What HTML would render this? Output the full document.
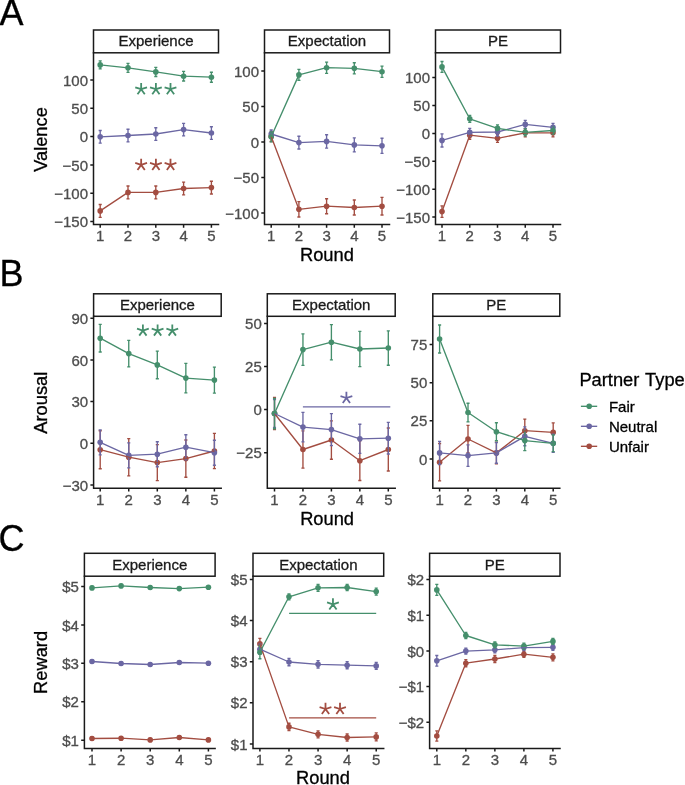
<!DOCTYPE html>
<html><head><meta charset="utf-8"><title>Partner Type plots</title><style>html,body{margin:0;padding:0;background:#fff;}svg{display:block;will-change:transform;}body{font-family:"Liberation Sans",sans-serif;width:685px;height:785px;overflow:hidden;}</style></head><body>
<svg width="685" height="785" viewBox="0 0 685 785" font-family="'Liberation Sans', sans-serif">
<rect width="685" height="785" fill="#fff"/>
<rect x="93.5" y="30" width="125" height="22.8" fill="#fff" stroke="#1A1A1A" stroke-width="1.5"/>
<text x="156" y="46.3" font-size="15" fill="#1A1A1A" text-anchor="middle" stroke="#1A1A1A" stroke-width="0.3">Experience</text>
<path d="M100.2 204.5V217.3M98.65 204.5H101.75M98.65 217.3H101.75M128 186V198.8M126.45 186H129.55M126.45 198.8H129.55M155.8 186V198.8M154.25 186H157.35M154.25 198.8H157.35M183.6 182.1V194.9M182.05 182.1H185.15M182.05 194.9H185.15M211.4 181.2V194M209.85 181.2H212.95M209.85 194H212.95" stroke="#A34D41" stroke-width="1.35" fill="none"/>
<circle cx="100.2" cy="210.9" r="2.8" fill="#A34D41"/>
<circle cx="128" cy="192.4" r="2.8" fill="#A34D41"/>
<circle cx="155.8" cy="192.4" r="2.8" fill="#A34D41"/>
<circle cx="183.6" cy="188.5" r="2.8" fill="#A34D41"/>
<circle cx="211.4" cy="187.6" r="2.8" fill="#A34D41"/>
<path d="M100.2 130.5V143.1M98.65 130.5H101.75M98.65 143.1H101.75M128 129.2V141.8M126.45 129.2H129.55M126.45 141.8H129.55M155.8 127.7V140.3M154.25 127.7H157.35M154.25 140.3H157.35M183.6 123.3V135.9M182.05 123.3H185.15M182.05 135.9H185.15M211.4 126.7V139.3M209.85 126.7H212.95M209.85 139.3H212.95" stroke="#6B67A3" stroke-width="1.35" fill="none"/>
<circle cx="100.2" cy="136.8" r="2.8" fill="#6B67A3"/>
<circle cx="128" cy="135.5" r="2.8" fill="#6B67A3"/>
<circle cx="155.8" cy="134" r="2.8" fill="#6B67A3"/>
<circle cx="183.6" cy="129.6" r="2.8" fill="#6B67A3"/>
<circle cx="211.4" cy="133" r="2.8" fill="#6B67A3"/>
<path d="M100.2 60.9V68.9M98.65 60.9H101.75M98.65 68.9H101.75M128 63.3V72.3M126.45 63.3H129.55M126.45 72.3H129.55M155.8 67.3V76.5M154.25 67.3H157.35M154.25 76.5H157.35M183.6 71.4V81M182.05 71.4H185.15M182.05 81H185.15M211.4 72.2V82.2M209.85 72.2H212.95M209.85 82.2H212.95" stroke="#458F6C" stroke-width="1.35" fill="none"/>
<circle cx="100.2" cy="64.9" r="2.8" fill="#458F6C"/>
<circle cx="128" cy="67.8" r="2.8" fill="#458F6C"/>
<circle cx="155.8" cy="71.9" r="2.8" fill="#458F6C"/>
<circle cx="183.6" cy="76.2" r="2.8" fill="#458F6C"/>
<circle cx="211.4" cy="77.2" r="2.8" fill="#458F6C"/>
<polyline points="100.2,210.9 128,192.4 155.8,192.4 183.6,188.5 211.4,187.6" fill="none" stroke="#A34D41" stroke-width="1.35" stroke-linejoin="round"/>
<polyline points="100.2,136.8 128,135.5 155.8,134 183.6,129.6 211.4,133" fill="none" stroke="#6B67A3" stroke-width="1.35" stroke-linejoin="round"/>
<polyline points="100.2,64.9 128,67.8 155.8,71.9 183.6,76.2 211.4,77.2" fill="none" stroke="#458F6C" stroke-width="1.35" stroke-linejoin="round"/>
<path d="M141.15 89.2L141.15 83M141.15 89.2L147.05 87.28M141.15 89.2L144.79 94.22M141.15 89.2L137.51 94.22M141.15 89.2L135.25 87.28" stroke="#458F6C" stroke-width="1.8" stroke-linecap="butt" fill="none"/>
<path d="M155.9 89.2L155.9 83M155.9 89.2L161.8 87.28M155.9 89.2L159.54 94.22M155.9 89.2L152.26 94.22M155.9 89.2L150 87.28" stroke="#458F6C" stroke-width="1.8" stroke-linecap="butt" fill="none"/>
<path d="M170.5 89.2L170.5 83M170.5 89.2L176.4 87.28M170.5 89.2L174.14 94.22M170.5 89.2L166.86 94.22M170.5 89.2L164.6 87.28" stroke="#458F6C" stroke-width="1.8" stroke-linecap="butt" fill="none"/>
<path d="M141.15 164.9L141.15 158.7M141.15 164.9L147.05 162.98M141.15 164.9L144.79 169.92M141.15 164.9L137.51 169.92M141.15 164.9L135.25 162.98" stroke="#A34D41" stroke-width="1.8" stroke-linecap="butt" fill="none"/>
<path d="M155.9 164.9L155.9 158.7M155.9 164.9L161.8 162.98M155.9 164.9L159.54 169.92M155.9 164.9L152.26 169.92M155.9 164.9L150 162.98" stroke="#A34D41" stroke-width="1.8" stroke-linecap="butt" fill="none"/>
<path d="M170.5 164.9L170.5 158.7M170.5 164.9L176.4 162.98M170.5 164.9L174.14 169.92M170.5 164.9L166.86 169.92M170.5 164.9L164.6 162.98" stroke="#A34D41" stroke-width="1.8" stroke-linecap="butt" fill="none"/>
<path d="M93.5 52.8V224.6H218.5" fill="none" stroke="#1A1A1A" stroke-width="1.5" stroke-linecap="square"/>
<path d="M90.3 80H93.5M90.3 108.3H93.5M90.3 136.6H93.5M90.3 164.9H93.5M90.3 193.3H93.5M90.3 221.6H93.5M100.2 224.6V227.8M128 224.6V227.8M155.8 224.6V227.8M183.6 224.6V227.8M211.4 224.6V227.8" stroke="#1A1A1A" stroke-width="1.5"/>
<text x="88" y="85.6" font-size="15" fill="#4D4D4D" text-anchor="end" stroke="#4D4D4D" stroke-width="0.3">100</text>
<text x="88" y="113.9" font-size="15" fill="#4D4D4D" text-anchor="end" stroke="#4D4D4D" stroke-width="0.3">50</text>
<text x="88" y="142.2" font-size="15" fill="#4D4D4D" text-anchor="end" stroke="#4D4D4D" stroke-width="0.3">0</text>
<text x="88" y="170.5" font-size="15" fill="#4D4D4D" text-anchor="end" stroke="#4D4D4D" stroke-width="0.3">−50</text>
<text x="88" y="198.9" font-size="15" fill="#4D4D4D" text-anchor="end" stroke="#4D4D4D" stroke-width="0.3">−100</text>
<text x="88" y="227.2" font-size="15" fill="#4D4D4D" text-anchor="end" stroke="#4D4D4D" stroke-width="0.3">−150</text>
<text x="100.2" y="241.2" font-size="15" fill="#4D4D4D" text-anchor="middle" stroke="#4D4D4D" stroke-width="0.3">1</text>
<text x="128" y="241.2" font-size="15" fill="#4D4D4D" text-anchor="middle" stroke="#4D4D4D" stroke-width="0.3">2</text>
<text x="155.8" y="241.2" font-size="15" fill="#4D4D4D" text-anchor="middle" stroke="#4D4D4D" stroke-width="0.3">3</text>
<text x="183.6" y="241.2" font-size="15" fill="#4D4D4D" text-anchor="middle" stroke="#4D4D4D" stroke-width="0.3">4</text>
<text x="211.4" y="241.2" font-size="15" fill="#4D4D4D" text-anchor="middle" stroke="#4D4D4D" stroke-width="0.3">5</text>
<rect x="264.5" y="30" width="125" height="22.8" fill="#fff" stroke="#1A1A1A" stroke-width="1.5"/>
<text x="327" y="46.3" font-size="15" fill="#1A1A1A" text-anchor="middle" stroke="#1A1A1A" stroke-width="0.3">Expectation</text>
<path d="M271.2 131.5V141.5M269.65 131.5H272.75M269.65 141.5H272.75M298.9 201.6V217M297.35 201.6H300.45M297.35 217H300.45M326.6 198.7V213.7M325.05 198.7H328.15M325.05 213.7H328.15M354.3 200V215M352.75 200H355.85M352.75 215H355.85M382 197.4V215M380.45 197.4H383.55M380.45 215H383.55" stroke="#A34D41" stroke-width="1.35" fill="none"/>
<circle cx="271.2" cy="136.5" r="2.8" fill="#A34D41"/>
<circle cx="298.9" cy="209.3" r="2.8" fill="#A34D41"/>
<circle cx="326.6" cy="206.2" r="2.8" fill="#A34D41"/>
<circle cx="354.3" cy="207.5" r="2.8" fill="#A34D41"/>
<circle cx="382" cy="206.2" r="2.8" fill="#A34D41"/>
<path d="M271.2 130V138M269.65 130H272.75M269.65 138H272.75M298.9 136.2V149M297.35 136.2H300.45M297.35 149H300.45M326.6 134.7V148.1M325.05 134.7H328.15M325.05 148.1H328.15M354.3 137.9V151.9M352.75 137.9H355.85M352.75 151.9H355.85M382 138.2V153.4M380.45 138.2H383.55M380.45 153.4H383.55" stroke="#6B67A3" stroke-width="1.35" fill="none"/>
<circle cx="271.2" cy="134" r="2.8" fill="#6B67A3"/>
<circle cx="298.9" cy="142.6" r="2.8" fill="#6B67A3"/>
<circle cx="326.6" cy="141.4" r="2.8" fill="#6B67A3"/>
<circle cx="354.3" cy="144.9" r="2.8" fill="#6B67A3"/>
<circle cx="382" cy="145.8" r="2.8" fill="#6B67A3"/>
<path d="M271.2 131.8V141.8M269.65 131.8H272.75M269.65 141.8H272.75M298.9 69.4V80.4M297.35 69.4H300.45M297.35 80.4H300.45M326.6 62.1V73.3M325.05 62.1H328.15M325.05 73.3H328.15M354.3 62.7V73.9M352.75 62.7H355.85M352.75 73.9H355.85M382 66.1V77.3M380.45 66.1H383.55M380.45 77.3H383.55" stroke="#458F6C" stroke-width="1.35" fill="none"/>
<circle cx="271.2" cy="136.8" r="2.8" fill="#458F6C"/>
<circle cx="298.9" cy="74.9" r="2.8" fill="#458F6C"/>
<circle cx="326.6" cy="67.7" r="2.8" fill="#458F6C"/>
<circle cx="354.3" cy="68.3" r="2.8" fill="#458F6C"/>
<circle cx="382" cy="71.7" r="2.8" fill="#458F6C"/>
<polyline points="271.2,136.5 298.9,209.3 326.6,206.2 354.3,207.5 382,206.2" fill="none" stroke="#A34D41" stroke-width="1.35" stroke-linejoin="round"/>
<polyline points="271.2,134 298.9,142.6 326.6,141.4 354.3,144.9 382,145.8" fill="none" stroke="#6B67A3" stroke-width="1.35" stroke-linejoin="round"/>
<polyline points="271.2,136.8 298.9,74.9 326.6,67.7 354.3,68.3 382,71.7" fill="none" stroke="#458F6C" stroke-width="1.35" stroke-linejoin="round"/>
<path d="M264.5 52.8V224.6H389.5" fill="none" stroke="#1A1A1A" stroke-width="1.5" stroke-linecap="square"/>
<path d="M261.3 71.1H264.5M261.3 106.5H264.5M261.3 142H264.5M261.3 177.5H264.5M261.3 213.1H264.5M271.2 224.6V227.8M298.9 224.6V227.8M326.6 224.6V227.8M354.3 224.6V227.8M382 224.6V227.8" stroke="#1A1A1A" stroke-width="1.5"/>
<text x="259" y="76.7" font-size="15" fill="#4D4D4D" text-anchor="end" stroke="#4D4D4D" stroke-width="0.3">100</text>
<text x="259" y="112.1" font-size="15" fill="#4D4D4D" text-anchor="end" stroke="#4D4D4D" stroke-width="0.3">50</text>
<text x="259" y="147.6" font-size="15" fill="#4D4D4D" text-anchor="end" stroke="#4D4D4D" stroke-width="0.3">0</text>
<text x="259" y="183.1" font-size="15" fill="#4D4D4D" text-anchor="end" stroke="#4D4D4D" stroke-width="0.3">−50</text>
<text x="259" y="218.7" font-size="15" fill="#4D4D4D" text-anchor="end" stroke="#4D4D4D" stroke-width="0.3">−100</text>
<text x="271.2" y="241.2" font-size="15" fill="#4D4D4D" text-anchor="middle" stroke="#4D4D4D" stroke-width="0.3">1</text>
<text x="298.9" y="241.2" font-size="15" fill="#4D4D4D" text-anchor="middle" stroke="#4D4D4D" stroke-width="0.3">2</text>
<text x="326.6" y="241.2" font-size="15" fill="#4D4D4D" text-anchor="middle" stroke="#4D4D4D" stroke-width="0.3">3</text>
<text x="354.3" y="241.2" font-size="15" fill="#4D4D4D" text-anchor="middle" stroke="#4D4D4D" stroke-width="0.3">4</text>
<text x="382" y="241.2" font-size="15" fill="#4D4D4D" text-anchor="middle" stroke="#4D4D4D" stroke-width="0.3">5</text>
<rect x="435.5" y="30" width="125" height="22.8" fill="#fff" stroke="#1A1A1A" stroke-width="1.5"/>
<text x="498" y="46.3" font-size="15" fill="#1A1A1A" text-anchor="middle" stroke="#1A1A1A" stroke-width="0.3">PE</text>
<path d="M442 205.8V217.4M440.45 205.8H443.55M440.45 217.4H443.55M469.75 131.2V139.2M468.2 131.2H471.3M468.2 139.2H471.3M497.5 134.3V142.3M495.95 134.3H499.05M495.95 142.3H499.05M525.25 128.8V136.8M523.7 128.8H526.8M523.7 136.8H526.8M553 128.8V136.8M551.45 128.8H554.55M551.45 136.8H554.55" stroke="#A34D41" stroke-width="1.35" fill="none"/>
<circle cx="442" cy="211.6" r="2.8" fill="#A34D41"/>
<circle cx="469.75" cy="135.2" r="2.8" fill="#A34D41"/>
<circle cx="497.5" cy="138.3" r="2.8" fill="#A34D41"/>
<circle cx="525.25" cy="132.8" r="2.8" fill="#A34D41"/>
<circle cx="553" cy="132.8" r="2.8" fill="#A34D41"/>
<path d="M442 133.8V147M440.45 133.8H443.55M440.45 147H443.55M469.75 128.4V136.4M468.2 128.4H471.3M468.2 136.4H471.3M497.5 128V136M495.95 128H499.05M495.95 136H499.05M525.25 120.4V128.4M523.7 120.4H526.8M523.7 128.4H526.8M553 123.3V131.3M551.45 123.3H554.55M551.45 131.3H554.55" stroke="#6B67A3" stroke-width="1.35" fill="none"/>
<circle cx="442" cy="140.4" r="2.8" fill="#6B67A3"/>
<circle cx="469.75" cy="132.4" r="2.8" fill="#6B67A3"/>
<circle cx="497.5" cy="132" r="2.8" fill="#6B67A3"/>
<circle cx="525.25" cy="124.4" r="2.8" fill="#6B67A3"/>
<circle cx="553" cy="127.3" r="2.8" fill="#6B67A3"/>
<path d="M442 61.5V72.3M440.45 61.5H443.55M440.45 72.3H443.55M469.75 115.3V122.3M468.2 115.3H471.3M468.2 122.3H471.3M497.5 124.9V131.9M495.95 124.9H499.05M495.95 131.9H499.05M525.25 128.9V135.9M523.7 128.9H526.8M523.7 135.9H526.8M553 127V134M551.45 127H554.55M551.45 134H554.55" stroke="#458F6C" stroke-width="1.35" fill="none"/>
<circle cx="442" cy="66.9" r="2.8" fill="#458F6C"/>
<circle cx="469.75" cy="118.8" r="2.8" fill="#458F6C"/>
<circle cx="497.5" cy="128.4" r="2.8" fill="#458F6C"/>
<circle cx="525.25" cy="132.4" r="2.8" fill="#458F6C"/>
<circle cx="553" cy="130.5" r="2.8" fill="#458F6C"/>
<polyline points="442,211.6 469.75,135.2 497.5,138.3 525.25,132.8 553,132.8" fill="none" stroke="#A34D41" stroke-width="1.35" stroke-linejoin="round"/>
<polyline points="442,140.4 469.75,132.4 497.5,132 525.25,124.4 553,127.3" fill="none" stroke="#6B67A3" stroke-width="1.35" stroke-linejoin="round"/>
<polyline points="442,66.9 469.75,118.8 497.5,128.4 525.25,132.4 553,130.5" fill="none" stroke="#458F6C" stroke-width="1.35" stroke-linejoin="round"/>
<path d="M435.5 52.8V224.6H560.5" fill="none" stroke="#1A1A1A" stroke-width="1.5" stroke-linecap="square"/>
<path d="M432.3 77.6H435.5M432.3 105.5H435.5M432.3 133.4H435.5M432.3 161.3H435.5M432.3 189.2H435.5M432.3 217.1H435.5M442 224.6V227.8M469.75 224.6V227.8M497.5 224.6V227.8M525.25 224.6V227.8M553 224.6V227.8" stroke="#1A1A1A" stroke-width="1.5"/>
<text x="430" y="83.2" font-size="15" fill="#4D4D4D" text-anchor="end" stroke="#4D4D4D" stroke-width="0.3">100</text>
<text x="430" y="111.1" font-size="15" fill="#4D4D4D" text-anchor="end" stroke="#4D4D4D" stroke-width="0.3">50</text>
<text x="430" y="139" font-size="15" fill="#4D4D4D" text-anchor="end" stroke="#4D4D4D" stroke-width="0.3">0</text>
<text x="430" y="166.9" font-size="15" fill="#4D4D4D" text-anchor="end" stroke="#4D4D4D" stroke-width="0.3">−50</text>
<text x="430" y="194.8" font-size="15" fill="#4D4D4D" text-anchor="end" stroke="#4D4D4D" stroke-width="0.3">−100</text>
<text x="430" y="222.7" font-size="15" fill="#4D4D4D" text-anchor="end" stroke="#4D4D4D" stroke-width="0.3">−150</text>
<text x="442" y="241.2" font-size="15" fill="#4D4D4D" text-anchor="middle" stroke="#4D4D4D" stroke-width="0.3">1</text>
<text x="469.75" y="241.2" font-size="15" fill="#4D4D4D" text-anchor="middle" stroke="#4D4D4D" stroke-width="0.3">2</text>
<text x="497.5" y="241.2" font-size="15" fill="#4D4D4D" text-anchor="middle" stroke="#4D4D4D" stroke-width="0.3">3</text>
<text x="525.25" y="241.2" font-size="15" fill="#4D4D4D" text-anchor="middle" stroke="#4D4D4D" stroke-width="0.3">4</text>
<text x="553" y="241.2" font-size="15" fill="#4D4D4D" text-anchor="middle" stroke="#4D4D4D" stroke-width="0.3">5</text>
<rect x="93.6" y="293.8" width="127.6" height="22.5" fill="#fff" stroke="#1A1A1A" stroke-width="1.5"/>
<text x="157.4" y="309.95" font-size="15" fill="#1A1A1A" text-anchor="middle" stroke="#1A1A1A" stroke-width="0.3">Experience</text>
<path d="M100.2 430.7V468.7M98.65 430.7H101.75M98.65 468.7H101.75M128.75 438.6V475.8M127.2 438.6H130.3M127.2 475.8H130.3M157.3 444.6V480.6M155.75 444.6H158.85M155.75 480.6H158.85M185.85 440V477.2M184.3 440H187.4M184.3 477.2H187.4M214.4 433.4V468.6M212.85 433.4H215.95M212.85 468.6H215.95" stroke="#A34D41" stroke-width="1.35" fill="none"/>
<circle cx="100.2" cy="449.7" r="2.8" fill="#A34D41"/>
<circle cx="128.75" cy="457.2" r="2.8" fill="#A34D41"/>
<circle cx="157.3" cy="462.6" r="2.8" fill="#A34D41"/>
<circle cx="185.85" cy="458.6" r="2.8" fill="#A34D41"/>
<circle cx="214.4" cy="451" r="2.8" fill="#A34D41"/>
<path d="M100.2 429.8V454.8M98.65 429.8H101.75M98.65 454.8H101.75M128.75 442.9V467.9M127.2 442.9H130.3M127.2 467.9H130.3M157.3 441.7V466.7M155.75 441.7H158.85M155.75 466.7H158.85M185.85 434.7V459.7M184.3 434.7H187.4M184.3 459.7H187.4M214.4 440.2V465.2M212.85 440.2H215.95M212.85 465.2H215.95" stroke="#6B67A3" stroke-width="1.35" fill="none"/>
<circle cx="100.2" cy="442.3" r="2.8" fill="#6B67A3"/>
<circle cx="128.75" cy="455.4" r="2.8" fill="#6B67A3"/>
<circle cx="157.3" cy="454.2" r="2.8" fill="#6B67A3"/>
<circle cx="185.85" cy="447.2" r="2.8" fill="#6B67A3"/>
<circle cx="214.4" cy="452.7" r="2.8" fill="#6B67A3"/>
<path d="M100.2 324.4V352M98.65 324.4H101.75M98.65 352H101.75M128.75 340.4V366.8M127.2 340.4H130.3M127.2 366.8H130.3M157.3 351.1V378.7M155.75 351.1H158.85M155.75 378.7H158.85M185.85 363.4V392.8M184.3 363.4H187.4M184.3 392.8H187.4M214.4 367.05V393.15M212.85 367.05H215.95M212.85 393.15H215.95" stroke="#458F6C" stroke-width="1.35" fill="none"/>
<circle cx="100.2" cy="338.2" r="2.8" fill="#458F6C"/>
<circle cx="128.75" cy="353.6" r="2.8" fill="#458F6C"/>
<circle cx="157.3" cy="364.9" r="2.8" fill="#458F6C"/>
<circle cx="185.85" cy="378.1" r="2.8" fill="#458F6C"/>
<circle cx="214.4" cy="380.1" r="2.8" fill="#458F6C"/>
<polyline points="100.2,449.7 128.75,457.2 157.3,462.6 185.85,458.6 214.4,451" fill="none" stroke="#A34D41" stroke-width="1.35" stroke-linejoin="round"/>
<polyline points="100.2,442.3 128.75,455.4 157.3,454.2 185.85,447.2 214.4,452.7" fill="none" stroke="#6B67A3" stroke-width="1.35" stroke-linejoin="round"/>
<polyline points="100.2,338.2 128.75,353.6 157.3,364.9 185.85,378.1 214.4,380.1" fill="none" stroke="#458F6C" stroke-width="1.35" stroke-linejoin="round"/>
<path d="M142.9 330.6L142.9 324.4M142.9 330.6L148.8 328.68M142.9 330.6L146.54 335.62M142.9 330.6L139.26 335.62M142.9 330.6L137 328.68" stroke="#458F6C" stroke-width="1.8" stroke-linecap="butt" fill="none"/>
<path d="M157.6 330.6L157.6 324.4M157.6 330.6L163.5 328.68M157.6 330.6L161.24 335.62M157.6 330.6L153.96 335.62M157.6 330.6L151.7 328.68" stroke="#458F6C" stroke-width="1.8" stroke-linecap="butt" fill="none"/>
<path d="M172.3 330.6L172.3 324.4M172.3 330.6L178.2 328.68M172.3 330.6L175.94 335.62M172.3 330.6L168.66 335.62M172.3 330.6L166.4 328.68" stroke="#458F6C" stroke-width="1.8" stroke-linecap="butt" fill="none"/>
<path d="M93.6 316.3V488.3H221.2" fill="none" stroke="#1A1A1A" stroke-width="1.5" stroke-linecap="square"/>
<path d="M90.4 318.3H93.6M90.4 359.9H93.6M90.4 401.6H93.6M90.4 443.3H93.6M90.4 485H93.6M100.2 488.3V491.5M128.75 488.3V491.5M157.3 488.3V491.5M185.85 488.3V491.5M214.4 488.3V491.5" stroke="#1A1A1A" stroke-width="1.5"/>
<text x="88.1" y="323.9" font-size="15" fill="#4D4D4D" text-anchor="end" stroke="#4D4D4D" stroke-width="0.3">90</text>
<text x="88.1" y="365.5" font-size="15" fill="#4D4D4D" text-anchor="end" stroke="#4D4D4D" stroke-width="0.3">60</text>
<text x="88.1" y="407.2" font-size="15" fill="#4D4D4D" text-anchor="end" stroke="#4D4D4D" stroke-width="0.3">30</text>
<text x="88.1" y="448.9" font-size="15" fill="#4D4D4D" text-anchor="end" stroke="#4D4D4D" stroke-width="0.3">0</text>
<text x="88.1" y="490.6" font-size="15" fill="#4D4D4D" text-anchor="end" stroke="#4D4D4D" stroke-width="0.3">−30</text>
<text x="100.2" y="504.9" font-size="15" fill="#4D4D4D" text-anchor="middle" stroke="#4D4D4D" stroke-width="0.3">1</text>
<text x="128.75" y="504.9" font-size="15" fill="#4D4D4D" text-anchor="middle" stroke="#4D4D4D" stroke-width="0.3">2</text>
<text x="157.3" y="504.9" font-size="15" fill="#4D4D4D" text-anchor="middle" stroke="#4D4D4D" stroke-width="0.3">3</text>
<text x="185.85" y="504.9" font-size="15" fill="#4D4D4D" text-anchor="middle" stroke="#4D4D4D" stroke-width="0.3">4</text>
<text x="214.4" y="504.9" font-size="15" fill="#4D4D4D" text-anchor="middle" stroke="#4D4D4D" stroke-width="0.3">5</text>
<rect x="267.3" y="293.8" width="127.9" height="22.5" fill="#fff" stroke="#1A1A1A" stroke-width="1.5"/>
<text x="331.25" y="309.95" font-size="15" fill="#1A1A1A" text-anchor="middle" stroke="#1A1A1A" stroke-width="0.3">Expectation</text>
<path d="M274.5 397.5V429.5M272.95 397.5H276.05M272.95 429.5H276.05M302.95 430.9V468.1M301.4 430.9H304.5M301.4 468.1H304.5M331.4 420.8V459.2M329.85 420.8H332.95M329.85 459.2H332.95M359.85 440.9V480.5M358.3 440.9H361.4M358.3 480.5H361.4M388.3 428V471M386.75 428H389.85M386.75 471H389.85" stroke="#A34D41" stroke-width="1.35" fill="none"/>
<circle cx="274.5" cy="413.5" r="2.8" fill="#A34D41"/>
<circle cx="302.95" cy="449.5" r="2.8" fill="#A34D41"/>
<circle cx="331.4" cy="440" r="2.8" fill="#A34D41"/>
<circle cx="359.85" cy="460.7" r="2.8" fill="#A34D41"/>
<circle cx="388.3" cy="449.5" r="2.8" fill="#A34D41"/>
<path d="M274.5 399.5V427.5M272.95 399.5H276.05M272.95 427.5H276.05M302.95 412.4V441.8M301.4 412.4H304.5M301.4 441.8H304.5M331.4 413.6V445.6M329.85 413.6H332.95M329.85 445.6H332.95M359.85 424.2V453.4M358.3 424.2H361.4M358.3 453.4H361.4M388.3 422.4V454M386.75 422.4H389.85M386.75 454H389.85" stroke="#6B67A3" stroke-width="1.35" fill="none"/>
<circle cx="274.5" cy="413.5" r="2.8" fill="#6B67A3"/>
<circle cx="302.95" cy="427.1" r="2.8" fill="#6B67A3"/>
<circle cx="331.4" cy="429.6" r="2.8" fill="#6B67A3"/>
<circle cx="359.85" cy="438.8" r="2.8" fill="#6B67A3"/>
<circle cx="388.3" cy="438.2" r="2.8" fill="#6B67A3"/>
<path d="M274.5 398.3V428.7M272.95 398.3H276.05M272.95 428.7H276.05M302.95 333.8V365.4M301.4 333.8H304.5M301.4 365.4H304.5M331.4 324.6V359.8M329.85 324.6H332.95M329.85 359.8H332.95M359.85 331.4V366.6M358.3 331.4H361.4M358.3 366.6H361.4M388.3 330.8V365.2M386.75 330.8H389.85M386.75 365.2H389.85" stroke="#458F6C" stroke-width="1.35" fill="none"/>
<circle cx="274.5" cy="413.5" r="2.8" fill="#458F6C"/>
<circle cx="302.95" cy="349.6" r="2.8" fill="#458F6C"/>
<circle cx="331.4" cy="342.2" r="2.8" fill="#458F6C"/>
<circle cx="359.85" cy="349" r="2.8" fill="#458F6C"/>
<circle cx="388.3" cy="348" r="2.8" fill="#458F6C"/>
<polyline points="274.5,413.5 302.95,449.5 331.4,440 359.85,460.7 388.3,449.5" fill="none" stroke="#A34D41" stroke-width="1.35" stroke-linejoin="round"/>
<polyline points="274.5,413.5 302.95,427.1 331.4,429.6 359.85,438.8 388.3,438.2" fill="none" stroke="#6B67A3" stroke-width="1.35" stroke-linejoin="round"/>
<polyline points="274.5,413.5 302.95,349.6 331.4,342.2 359.85,349 388.3,348" fill="none" stroke="#458F6C" stroke-width="1.35" stroke-linejoin="round"/>
<path d="M346.4 398L346.4 391.8M346.4 398L352.3 396.08M346.4 398L350.04 403.02M346.4 398L342.76 403.02M346.4 398L340.5 396.08" stroke="#6B67A3" stroke-width="1.8" stroke-linecap="butt" fill="none"/>
<path d="M302.9 406.9H390.3" stroke="#6B67A3" stroke-width="1.2"/>
<path d="M267.3 316.3V488.3H395.2" fill="none" stroke="#1A1A1A" stroke-width="1.5" stroke-linecap="square"/>
<path d="M264.1 323.5H267.3M264.1 366.6H267.3M264.1 409.6H267.3M264.1 452.7H267.3M274.5 488.3V491.5M302.95 488.3V491.5M331.4 488.3V491.5M359.85 488.3V491.5M388.3 488.3V491.5" stroke="#1A1A1A" stroke-width="1.5"/>
<text x="261.8" y="329.1" font-size="15" fill="#4D4D4D" text-anchor="end" stroke="#4D4D4D" stroke-width="0.3">50</text>
<text x="261.8" y="372.2" font-size="15" fill="#4D4D4D" text-anchor="end" stroke="#4D4D4D" stroke-width="0.3">25</text>
<text x="261.8" y="415.2" font-size="15" fill="#4D4D4D" text-anchor="end" stroke="#4D4D4D" stroke-width="0.3">0</text>
<text x="261.8" y="458.3" font-size="15" fill="#4D4D4D" text-anchor="end" stroke="#4D4D4D" stroke-width="0.3">−25</text>
<text x="274.5" y="504.9" font-size="15" fill="#4D4D4D" text-anchor="middle" stroke="#4D4D4D" stroke-width="0.3">1</text>
<text x="302.95" y="504.9" font-size="15" fill="#4D4D4D" text-anchor="middle" stroke="#4D4D4D" stroke-width="0.3">2</text>
<text x="331.4" y="504.9" font-size="15" fill="#4D4D4D" text-anchor="middle" stroke="#4D4D4D" stroke-width="0.3">3</text>
<text x="359.85" y="504.9" font-size="15" fill="#4D4D4D" text-anchor="middle" stroke="#4D4D4D" stroke-width="0.3">4</text>
<text x="388.3" y="504.9" font-size="15" fill="#4D4D4D" text-anchor="middle" stroke="#4D4D4D" stroke-width="0.3">5</text>
<rect x="432.8" y="293.8" width="127" height="22.5" fill="#fff" stroke="#1A1A1A" stroke-width="1.5"/>
<text x="496.3" y="309.95" font-size="15" fill="#1A1A1A" text-anchor="middle" stroke="#1A1A1A" stroke-width="0.3">PE</text>
<path d="M439.6 443.5V480.9M438.05 443.5H441.15M438.05 480.9H441.15M468 425.4V452.6M466.45 425.4H469.55M466.45 452.6H469.55M496.4 442.1V463.7M494.85 442.1H497.95M494.85 463.7H497.95M524.8 419.1V442.3M523.25 419.1H526.35M523.25 442.3H526.35M553.2 422.8V442M551.65 422.8H554.75M551.65 442H554.75" stroke="#A34D41" stroke-width="1.35" fill="none"/>
<circle cx="439.6" cy="462.2" r="2.8" fill="#A34D41"/>
<circle cx="468" cy="439" r="2.8" fill="#A34D41"/>
<circle cx="496.4" cy="452.9" r="2.8" fill="#A34D41"/>
<circle cx="524.8" cy="430.7" r="2.8" fill="#A34D41"/>
<circle cx="553.2" cy="432.4" r="2.8" fill="#A34D41"/>
<path d="M439.6 441.3V464.5M438.05 441.3H441.15M438.05 464.5H441.15M468 444.8V466.4M466.45 444.8H469.55M466.45 466.4H469.55M496.4 442.6V463.2M494.85 442.6H497.95M494.85 463.2H497.95M524.8 426.9V445.7M523.25 426.9H526.35M523.25 445.7H526.35M553.2 434.2V452.4M551.65 434.2H554.75M551.65 452.4H554.75" stroke="#6B67A3" stroke-width="1.35" fill="none"/>
<circle cx="439.6" cy="452.9" r="2.8" fill="#6B67A3"/>
<circle cx="468" cy="455.6" r="2.8" fill="#6B67A3"/>
<circle cx="496.4" cy="452.9" r="2.8" fill="#6B67A3"/>
<circle cx="524.8" cy="436.3" r="2.8" fill="#6B67A3"/>
<circle cx="553.2" cy="443.3" r="2.8" fill="#6B67A3"/>
<path d="M439.6 325V353M438.05 325H441.15M438.05 353H441.15M468 403.2V421.8M466.45 403.2H469.55M466.45 421.8H469.55M496.4 422.7V440.7M494.85 422.7H497.95M494.85 440.7H497.95M524.8 430.6V450.6M523.25 430.6H526.35M523.25 450.6H526.35M553.2 435V451.6M551.65 435H554.75M551.65 451.6H554.75" stroke="#458F6C" stroke-width="1.35" fill="none"/>
<circle cx="439.6" cy="339" r="2.8" fill="#458F6C"/>
<circle cx="468" cy="412.5" r="2.8" fill="#458F6C"/>
<circle cx="496.4" cy="431.7" r="2.8" fill="#458F6C"/>
<circle cx="524.8" cy="440.6" r="2.8" fill="#458F6C"/>
<circle cx="553.2" cy="443.3" r="2.8" fill="#458F6C"/>
<polyline points="439.6,462.2 468,439 496.4,452.9 524.8,430.7 553.2,432.4" fill="none" stroke="#A34D41" stroke-width="1.35" stroke-linejoin="round"/>
<polyline points="439.6,452.9 468,455.6 496.4,452.9 524.8,436.3 553.2,443.3" fill="none" stroke="#6B67A3" stroke-width="1.35" stroke-linejoin="round"/>
<polyline points="439.6,339 468,412.5 496.4,431.7 524.8,440.6 553.2,443.3" fill="none" stroke="#458F6C" stroke-width="1.35" stroke-linejoin="round"/>
<path d="M432.8 316.3V488.3H559.8" fill="none" stroke="#1A1A1A" stroke-width="1.5" stroke-linecap="square"/>
<path d="M429.6 344.6H432.8M429.6 382.7H432.8M429.6 420.8H432.8M429.6 458.9H432.8M439.6 488.3V491.5M468 488.3V491.5M496.4 488.3V491.5M524.8 488.3V491.5M553.2 488.3V491.5" stroke="#1A1A1A" stroke-width="1.5"/>
<text x="427.3" y="350.2" font-size="15" fill="#4D4D4D" text-anchor="end" stroke="#4D4D4D" stroke-width="0.3">75</text>
<text x="427.3" y="388.3" font-size="15" fill="#4D4D4D" text-anchor="end" stroke="#4D4D4D" stroke-width="0.3">50</text>
<text x="427.3" y="426.4" font-size="15" fill="#4D4D4D" text-anchor="end" stroke="#4D4D4D" stroke-width="0.3">25</text>
<text x="427.3" y="464.5" font-size="15" fill="#4D4D4D" text-anchor="end" stroke="#4D4D4D" stroke-width="0.3">0</text>
<text x="439.6" y="504.9" font-size="15" fill="#4D4D4D" text-anchor="middle" stroke="#4D4D4D" stroke-width="0.3">1</text>
<text x="468" y="504.9" font-size="15" fill="#4D4D4D" text-anchor="middle" stroke="#4D4D4D" stroke-width="0.3">2</text>
<text x="496.4" y="504.9" font-size="15" fill="#4D4D4D" text-anchor="middle" stroke="#4D4D4D" stroke-width="0.3">3</text>
<text x="524.8" y="504.9" font-size="15" fill="#4D4D4D" text-anchor="middle" stroke="#4D4D4D" stroke-width="0.3">4</text>
<text x="553.2" y="504.9" font-size="15" fill="#4D4D4D" text-anchor="middle" stroke="#4D4D4D" stroke-width="0.3">5</text>
<rect x="84.4" y="553.3" width="130.7" height="22.9" fill="#fff" stroke="#1A1A1A" stroke-width="1.5"/>
<text x="149.75" y="569.65" font-size="15" fill="#1A1A1A" text-anchor="middle" stroke="#1A1A1A" stroke-width="0.3">Experience</text>
<path d="M92 737V740M90.45 737H93.55M90.45 740H93.55M121.1 736.7V739.7M119.55 736.7H122.65M119.55 739.7H122.65M150.2 738.4V741.4M148.65 738.4H151.75M148.65 741.4H151.75M179.3 736V739M177.75 736H180.85M177.75 739H180.85M208.4 738.4V741.4M206.85 738.4H209.95M206.85 741.4H209.95" stroke="#A34D41" stroke-width="1.35" fill="none"/>
<circle cx="92" cy="738.5" r="2.8" fill="#A34D41"/>
<circle cx="121.1" cy="738.2" r="2.8" fill="#A34D41"/>
<circle cx="150.2" cy="739.9" r="2.8" fill="#A34D41"/>
<circle cx="179.3" cy="737.5" r="2.8" fill="#A34D41"/>
<circle cx="208.4" cy="739.9" r="2.8" fill="#A34D41"/>
<path d="M92 660V663M90.45 660H93.55M90.45 663H93.55M121.1 662V665M119.55 662H122.65M119.55 665H122.65M150.2 663V666M148.65 663H151.75M148.65 666H151.75M179.3 661V664M177.75 661H180.85M177.75 664H180.85M208.4 661.7V664.7M206.85 661.7H209.95M206.85 664.7H209.95" stroke="#6B67A3" stroke-width="1.35" fill="none"/>
<circle cx="92" cy="661.5" r="2.8" fill="#6B67A3"/>
<circle cx="121.1" cy="663.5" r="2.8" fill="#6B67A3"/>
<circle cx="150.2" cy="664.5" r="2.8" fill="#6B67A3"/>
<circle cx="179.3" cy="662.5" r="2.8" fill="#6B67A3"/>
<circle cx="208.4" cy="663.2" r="2.8" fill="#6B67A3"/>
<path d="M92 586.4V589.4M90.45 586.4H93.55M90.45 589.4H93.55M121.1 584.4V587.4M119.55 584.4H122.65M119.55 587.4H122.65M150.2 586V589M148.65 586H151.75M148.65 589H151.75M179.3 587.1V590.1M177.75 587.1H180.85M177.75 590.1H180.85M208.4 585.7V588.7M206.85 585.7H209.95M206.85 588.7H209.95" stroke="#458F6C" stroke-width="1.35" fill="none"/>
<circle cx="92" cy="587.9" r="2.8" fill="#458F6C"/>
<circle cx="121.1" cy="585.9" r="2.8" fill="#458F6C"/>
<circle cx="150.2" cy="587.5" r="2.8" fill="#458F6C"/>
<circle cx="179.3" cy="588.6" r="2.8" fill="#458F6C"/>
<circle cx="208.4" cy="587.2" r="2.8" fill="#458F6C"/>
<polyline points="92,738.5 121.1,738.2 150.2,739.9 179.3,737.5 208.4,739.9" fill="none" stroke="#A34D41" stroke-width="1.35" stroke-linejoin="round"/>
<polyline points="92,661.5 121.1,663.5 150.2,664.5 179.3,662.5 208.4,663.2" fill="none" stroke="#6B67A3" stroke-width="1.35" stroke-linejoin="round"/>
<polyline points="92,587.9 121.1,585.9 150.2,587.5 179.3,588.6 208.4,587.2" fill="none" stroke="#458F6C" stroke-width="1.35" stroke-linejoin="round"/>
<path d="M84.4 576.2V748.4H215.1" fill="none" stroke="#1A1A1A" stroke-width="1.5" stroke-linecap="square"/>
<path d="M81.2 586.5H84.4M81.2 624.9H84.4M81.2 663.3H84.4M81.2 701.8H84.4M81.2 740.2H84.4M92 748.4V751.6M121.1 748.4V751.6M150.2 748.4V751.6M179.3 748.4V751.6M208.4 748.4V751.6" stroke="#1A1A1A" stroke-width="1.5"/>
<text x="78.9" y="592.1" font-size="15" fill="#4D4D4D" text-anchor="end" stroke="#4D4D4D" stroke-width="0.3">$5</text>
<text x="78.9" y="630.5" font-size="15" fill="#4D4D4D" text-anchor="end" stroke="#4D4D4D" stroke-width="0.3">$4</text>
<text x="78.9" y="668.9" font-size="15" fill="#4D4D4D" text-anchor="end" stroke="#4D4D4D" stroke-width="0.3">$3</text>
<text x="78.9" y="707.4" font-size="15" fill="#4D4D4D" text-anchor="end" stroke="#4D4D4D" stroke-width="0.3">$2</text>
<text x="78.9" y="745.8" font-size="15" fill="#4D4D4D" text-anchor="end" stroke="#4D4D4D" stroke-width="0.3">$1</text>
<text x="92" y="765" font-size="15" fill="#4D4D4D" text-anchor="middle" stroke="#4D4D4D" stroke-width="0.3">1</text>
<text x="121.1" y="765" font-size="15" fill="#4D4D4D" text-anchor="middle" stroke="#4D4D4D" stroke-width="0.3">2</text>
<text x="150.2" y="765" font-size="15" fill="#4D4D4D" text-anchor="middle" stroke="#4D4D4D" stroke-width="0.3">3</text>
<text x="179.3" y="765" font-size="15" fill="#4D4D4D" text-anchor="middle" stroke="#4D4D4D" stroke-width="0.3">4</text>
<text x="208.4" y="765" font-size="15" fill="#4D4D4D" text-anchor="middle" stroke="#4D4D4D" stroke-width="0.3">5</text>
<rect x="253" y="553.3" width="130.7" height="22.9" fill="#fff" stroke="#1A1A1A" stroke-width="1.5"/>
<text x="318.35" y="569.65" font-size="15" fill="#1A1A1A" text-anchor="middle" stroke="#1A1A1A" stroke-width="0.3">Expectation</text>
<path d="M259.9 638.4V649.4M258.35 638.4H261.45M258.35 649.4H261.45M288.98 723.2V730.6M287.43 723.2H290.53M287.43 730.6H290.53M318.06 730.8V737.8M316.51 730.8H319.61M316.51 737.8H319.61M347.14 734V741M345.59 734H348.69M345.59 741H348.69M376.22 732.9V740.9M374.67 732.9H377.77M374.67 740.9H377.77" stroke="#A34D41" stroke-width="1.35" fill="none"/>
<circle cx="259.9" cy="643.9" r="2.8" fill="#A34D41"/>
<circle cx="288.98" cy="726.9" r="2.8" fill="#A34D41"/>
<circle cx="318.06" cy="734.3" r="2.8" fill="#A34D41"/>
<circle cx="347.14" cy="737.5" r="2.8" fill="#A34D41"/>
<circle cx="376.22" cy="736.9" r="2.8" fill="#A34D41"/>
<path d="M259.9 644.2V654.2M258.35 644.2H261.45M258.35 654.2H261.45M288.98 658.3V665.7M287.43 658.3H290.53M287.43 665.7H290.53M318.06 660.6V668M316.51 660.6H319.61M316.51 668H319.61M347.14 661.7V668.7M345.59 661.7H348.69M345.59 668.7H348.69M376.22 662.4V669.4M374.67 662.4H377.77M374.67 669.4H377.77" stroke="#6B67A3" stroke-width="1.35" fill="none"/>
<circle cx="259.9" cy="649.2" r="2.8" fill="#6B67A3"/>
<circle cx="288.98" cy="662" r="2.8" fill="#6B67A3"/>
<circle cx="318.06" cy="664.3" r="2.8" fill="#6B67A3"/>
<circle cx="347.14" cy="665.2" r="2.8" fill="#6B67A3"/>
<circle cx="376.22" cy="665.9" r="2.8" fill="#6B67A3"/>
<path d="M259.9 645.9V658.7M258.35 645.9H261.45M258.35 658.7H261.45M288.98 593.8V599.8M287.43 593.8H290.53M287.43 599.8H290.53M318.06 584.3V591.3M316.51 584.3H319.61M316.51 591.3H319.61M347.14 584.5V590.5M345.59 584.5H348.69M345.59 590.5H348.69M376.22 588.1V595.1M374.67 588.1H377.77M374.67 595.1H377.77" stroke="#458F6C" stroke-width="1.35" fill="none"/>
<circle cx="259.9" cy="652.3" r="2.8" fill="#458F6C"/>
<circle cx="288.98" cy="596.8" r="2.8" fill="#458F6C"/>
<circle cx="318.06" cy="587.8" r="2.8" fill="#458F6C"/>
<circle cx="347.14" cy="587.5" r="2.8" fill="#458F6C"/>
<circle cx="376.22" cy="591.6" r="2.8" fill="#458F6C"/>
<polyline points="259.9,643.9 288.98,726.9 318.06,734.3 347.14,737.5 376.22,736.9" fill="none" stroke="#A34D41" stroke-width="1.35" stroke-linejoin="round"/>
<polyline points="259.9,649.2 288.98,662 318.06,664.3 347.14,665.2 376.22,665.9" fill="none" stroke="#6B67A3" stroke-width="1.35" stroke-linejoin="round"/>
<polyline points="259.9,652.3 288.98,596.8 318.06,587.8 347.14,587.5 376.22,591.6" fill="none" stroke="#458F6C" stroke-width="1.35" stroke-linejoin="round"/>
<path d="M332.95 604.4L332.95 598.2M332.95 604.4L338.85 602.48M332.95 604.4L336.59 609.42M332.95 604.4L329.31 609.42M332.95 604.4L327.05 602.48" stroke="#458F6C" stroke-width="1.8" stroke-linecap="butt" fill="none"/>
<path d="M325.5 709L325.5 702.8M325.5 709L331.4 707.08M325.5 709L329.14 714.02M325.5 709L321.86 714.02M325.5 709L319.6 707.08" stroke="#A34D41" stroke-width="1.8" stroke-linecap="butt" fill="none"/>
<path d="M340 709L340 702.8M340 709L345.9 707.08M340 709L343.64 714.02M340 709L336.36 714.02M340 709L334.1 707.08" stroke="#A34D41" stroke-width="1.8" stroke-linecap="butt" fill="none"/>
<path d="M289.1 613.4H376.2" stroke="#458F6C" stroke-width="1.2"/>
<path d="M289.1 717.9H376.2" stroke="#A34D41" stroke-width="1.2"/>
<path d="M253 576.2V748.4H383.7" fill="none" stroke="#1A1A1A" stroke-width="1.5" stroke-linecap="square"/>
<path d="M249.8 579.5H253M249.8 620.6H253M249.8 661.7H253M249.8 702.8H253M249.8 743.9H253M259.9 748.4V751.6M288.98 748.4V751.6M318.06 748.4V751.6M347.14 748.4V751.6M376.22 748.4V751.6" stroke="#1A1A1A" stroke-width="1.5"/>
<text x="247.5" y="585.1" font-size="15" fill="#4D4D4D" text-anchor="end" stroke="#4D4D4D" stroke-width="0.3">$5</text>
<text x="247.5" y="626.2" font-size="15" fill="#4D4D4D" text-anchor="end" stroke="#4D4D4D" stroke-width="0.3">$4</text>
<text x="247.5" y="667.3" font-size="15" fill="#4D4D4D" text-anchor="end" stroke="#4D4D4D" stroke-width="0.3">$3</text>
<text x="247.5" y="708.4" font-size="15" fill="#4D4D4D" text-anchor="end" stroke="#4D4D4D" stroke-width="0.3">$2</text>
<text x="247.5" y="749.5" font-size="15" fill="#4D4D4D" text-anchor="end" stroke="#4D4D4D" stroke-width="0.3">$1</text>
<text x="259.9" y="765" font-size="15" fill="#4D4D4D" text-anchor="middle" stroke="#4D4D4D" stroke-width="0.3">1</text>
<text x="288.98" y="765" font-size="15" fill="#4D4D4D" text-anchor="middle" stroke="#4D4D4D" stroke-width="0.3">2</text>
<text x="318.06" y="765" font-size="15" fill="#4D4D4D" text-anchor="middle" stroke="#4D4D4D" stroke-width="0.3">3</text>
<text x="347.14" y="765" font-size="15" fill="#4D4D4D" text-anchor="middle" stroke="#4D4D4D" stroke-width="0.3">4</text>
<text x="376.22" y="765" font-size="15" fill="#4D4D4D" text-anchor="middle" stroke="#4D4D4D" stroke-width="0.3">5</text>
<rect x="429.6" y="553.3" width="130.4" height="22.9" fill="#fff" stroke="#1A1A1A" stroke-width="1.5"/>
<text x="494.8" y="569.65" font-size="15" fill="#1A1A1A" text-anchor="middle" stroke="#1A1A1A" stroke-width="0.3">PE</text>
<path d="M436.8 730.9V741.1M435.25 730.9H438.35M435.25 741.1H438.35M465.83 659.7V666.7M464.28 659.7H467.38M464.28 666.7H467.38M494.86 655.5V662.5M493.31 655.5H496.41M493.31 662.5H496.41M523.89 651.2V657.2M522.34 651.2H525.44M522.34 657.2H525.44M552.92 653.8V660.8M551.37 653.8H554.47M551.37 660.8H554.47" stroke="#A34D41" stroke-width="1.35" fill="none"/>
<circle cx="436.8" cy="736" r="2.8" fill="#A34D41"/>
<circle cx="465.83" cy="663.2" r="2.8" fill="#A34D41"/>
<circle cx="494.86" cy="659" r="2.8" fill="#A34D41"/>
<circle cx="523.89" cy="654.2" r="2.8" fill="#A34D41"/>
<circle cx="552.92" cy="657.3" r="2.8" fill="#A34D41"/>
<path d="M436.8 655.5V666.1M435.25 655.5H438.35M435.25 666.1H438.35M465.83 648.1V654.1M464.28 648.1H467.38M464.28 654.1H467.38M494.86 646.8V652.8M493.31 646.8H496.41M493.31 652.8H496.41M523.89 644.6V650.6M522.34 644.6H525.44M522.34 650.6H525.44M552.92 644.3V650.3M551.37 644.3H554.47M551.37 650.3H554.47" stroke="#6B67A3" stroke-width="1.35" fill="none"/>
<circle cx="436.8" cy="660.8" r="2.8" fill="#6B67A3"/>
<circle cx="465.83" cy="651.1" r="2.8" fill="#6B67A3"/>
<circle cx="494.86" cy="649.8" r="2.8" fill="#6B67A3"/>
<circle cx="523.89" cy="647.6" r="2.8" fill="#6B67A3"/>
<circle cx="552.92" cy="647.3" r="2.8" fill="#6B67A3"/>
<path d="M436.8 584.4V595.4M435.25 584.4H438.35M435.25 595.4H438.35M465.83 632.5V638.5M464.28 632.5H467.38M464.28 638.5H467.38M494.86 641.8V647.8M493.31 641.8H496.41M493.31 647.8H496.41M523.89 643.1V649.1M522.34 643.1H525.44M522.34 649.1H525.44M552.92 638.4V644.4M551.37 638.4H554.47M551.37 644.4H554.47" stroke="#458F6C" stroke-width="1.35" fill="none"/>
<circle cx="436.8" cy="589.9" r="2.8" fill="#458F6C"/>
<circle cx="465.83" cy="635.5" r="2.8" fill="#458F6C"/>
<circle cx="494.86" cy="644.8" r="2.8" fill="#458F6C"/>
<circle cx="523.89" cy="646.1" r="2.8" fill="#458F6C"/>
<circle cx="552.92" cy="641.4" r="2.8" fill="#458F6C"/>
<polyline points="436.8,736 465.83,663.2 494.86,659 523.89,654.2 552.92,657.3" fill="none" stroke="#A34D41" stroke-width="1.35" stroke-linejoin="round"/>
<polyline points="436.8,660.8 465.83,651.1 494.86,649.8 523.89,647.6 552.92,647.3" fill="none" stroke="#6B67A3" stroke-width="1.35" stroke-linejoin="round"/>
<polyline points="436.8,589.9 465.83,635.5 494.86,644.8 523.89,646.1 552.92,641.4" fill="none" stroke="#458F6C" stroke-width="1.35" stroke-linejoin="round"/>
<path d="M429.6 576.2V748.4H560" fill="none" stroke="#1A1A1A" stroke-width="1.5" stroke-linecap="square"/>
<path d="M426.4 579.6H429.6M426.4 615.3H429.6M426.4 650.9H429.6M426.4 686.6H429.6M426.4 722.2H429.6M436.8 748.4V751.6M465.83 748.4V751.6M494.86 748.4V751.6M523.89 748.4V751.6M552.92 748.4V751.6" stroke="#1A1A1A" stroke-width="1.5"/>
<text x="424.1" y="585.2" font-size="15" fill="#4D4D4D" text-anchor="end" stroke="#4D4D4D" stroke-width="0.3">$2</text>
<text x="424.1" y="620.9" font-size="15" fill="#4D4D4D" text-anchor="end" stroke="#4D4D4D" stroke-width="0.3">$1</text>
<text x="424.1" y="656.5" font-size="15" fill="#4D4D4D" text-anchor="end" stroke="#4D4D4D" stroke-width="0.3">$0</text>
<text x="424.1" y="692.2" font-size="15" fill="#4D4D4D" text-anchor="end" stroke="#4D4D4D" stroke-width="0.3">−$1</text>
<text x="424.1" y="727.8" font-size="15" fill="#4D4D4D" text-anchor="end" stroke="#4D4D4D" stroke-width="0.3">−$2</text>
<text x="436.8" y="765" font-size="15" fill="#4D4D4D" text-anchor="middle" stroke="#4D4D4D" stroke-width="0.3">1</text>
<text x="465.83" y="765" font-size="15" fill="#4D4D4D" text-anchor="middle" stroke="#4D4D4D" stroke-width="0.3">2</text>
<text x="494.86" y="765" font-size="15" fill="#4D4D4D" text-anchor="middle" stroke="#4D4D4D" stroke-width="0.3">3</text>
<text x="523.89" y="765" font-size="15" fill="#4D4D4D" text-anchor="middle" stroke="#4D4D4D" stroke-width="0.3">4</text>
<text x="552.92" y="765" font-size="15" fill="#4D4D4D" text-anchor="middle" stroke="#4D4D4D" stroke-width="0.3">5</text>
<text x="-0.5" y="24.7" font-size="36" fill="#000" stroke="#000" stroke-width="0.3">A</text>
<text x="-0.5" y="285.6" font-size="36" fill="#000" stroke="#000" stroke-width="0.3">B</text>
<text x="-1.5" y="551" font-size="36" fill="#000" stroke="#000" stroke-width="0.3">C</text>
<text transform="translate(46.9 139.5) rotate(-90)" font-size="18.3" fill="#000" text-anchor="middle" stroke="#000" stroke-width="0.3">Valence</text>
<text transform="translate(46.9 402.7) rotate(-90)" font-size="18.3" fill="#000" text-anchor="middle" stroke="#000" stroke-width="0.3">Arousal</text>
<text transform="translate(46.9 662.4) rotate(-90)" font-size="18.3" fill="#000" text-anchor="middle" stroke="#000" stroke-width="0.3">Reward</text>
<text x="326.9" y="260.5" font-size="18.3" fill="#000" text-anchor="middle" stroke="#000" stroke-width="0.3">Round</text>
<text x="327.1" y="524.8" font-size="18.3" fill="#000" text-anchor="middle" stroke="#000" stroke-width="0.3">Round</text>
<text x="323" y="784.3" font-size="18.3" fill="#000" text-anchor="middle" stroke="#000" stroke-width="0.3">Round</text>
<text x="579.4" y="385.8" font-size="18.3" fill="#000" word-spacing="1" stroke="#000" stroke-width="0.3">Partner Type</text>
<path d="M580.9 406.3H597.2" stroke="#458F6C" stroke-width="1.35"/>
<circle cx="589.2" cy="406.3" r="2.8" fill="#458F6C"/>
<text x="608.9" y="411.5" font-size="15" fill="#000" stroke="#000" stroke-width="0.3">Fair</text>
<path d="M580.9 426.3H597.2" stroke="#6B67A3" stroke-width="1.35"/>
<circle cx="589.2" cy="426.3" r="2.8" fill="#6B67A3"/>
<text x="608.9" y="431.5" font-size="15" fill="#000" stroke="#000" stroke-width="0.3">Neutral</text>
<path d="M580.9 446.3H597.2" stroke="#A34D41" stroke-width="1.35"/>
<circle cx="589.2" cy="446.3" r="2.8" fill="#A34D41"/>
<text x="608.9" y="451.5" font-size="15" fill="#000" stroke="#000" stroke-width="0.3">Unfair</text>
</svg>
</body></html>
